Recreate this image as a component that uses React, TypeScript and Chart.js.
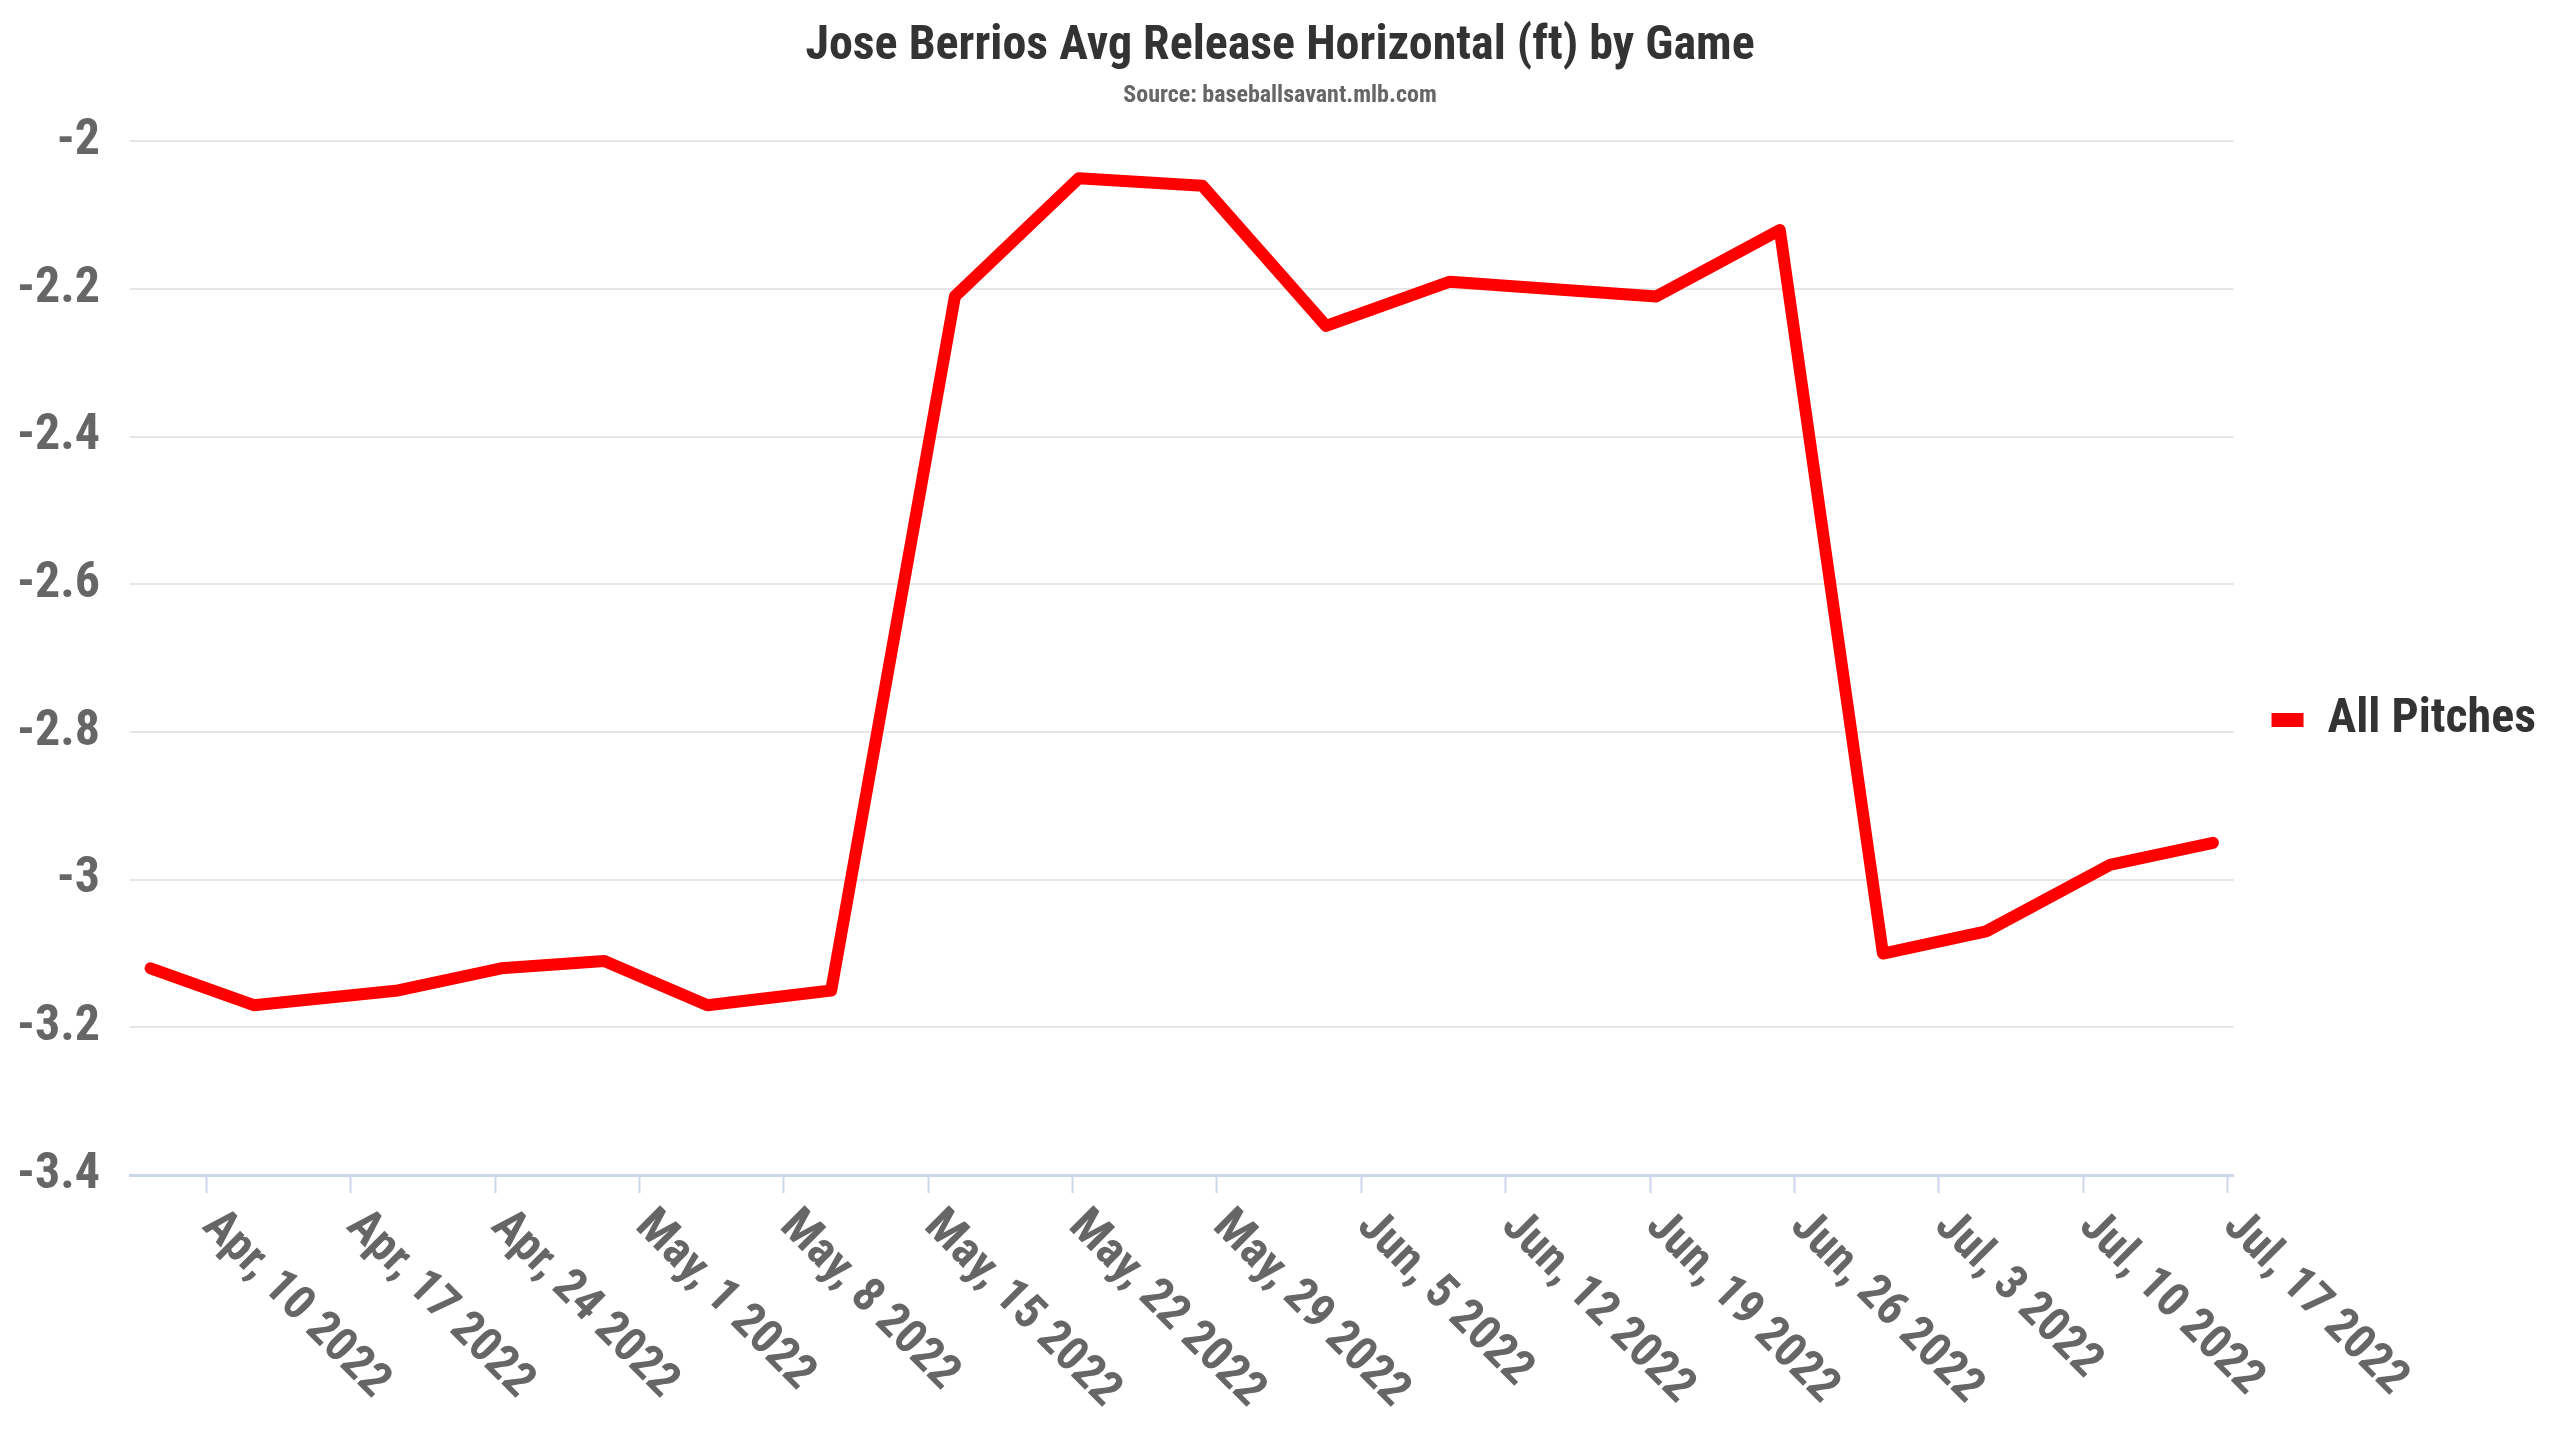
import { useEffect, useRef } from "react"
import { Chart, registerables } from "chart.js"

Chart.register(...registerables)

// game dates and avg release x (ft)
const gameDates = [
  "2022-04-07", "2022-04-12", "2022-04-19", "2022-04-24", "2022-04-29", "2022-05-04",
  "2022-05-10", "2022-05-16", "2022-05-22", "2022-05-28", "2022-06-03", "2022-06-09",
  "2022-06-19", "2022-06-25", "2022-06-30", "2022-07-05", "2022-07-11", "2022-07-16",
]
const releaseX = [
  -3.12, -3.17, -3.15, -3.12, -3.11, -3.17,
  -3.15, -2.21, -2.05, -2.06, -2.25, -2.19,
  -2.21, -2.12, -3.10, -3.07, -2.98, -2.95,
]

const tickDates = [
  "2022-04-10", "2022-04-17", "2022-04-24", "2022-05-01", "2022-05-08",
  "2022-05-15", "2022-05-22", "2022-05-29", "2022-06-05", "2022-06-12",
  "2022-06-19", "2022-06-26", "2022-07-03", "2022-07-10", "2022-07-17",
]
const tickLabels = [
  "Apr, 10 2022", "Apr, 17 2022", "Apr, 24 2022", "May, 1 2022", "May, 8 2022",
  "May, 15 2022", "May, 22 2022", "May, 29 2022", "Jun, 5 2022", "Jun, 12 2022",
  "Jun, 19 2022", "Jun, 26 2022", "Jul, 3 2022", "Jul, 10 2022", "Jul, 17 2022",
]

const axisMin = "2022-04-06"
const axisMax = "2022-07-17"

// week ticks sit at local midnight of the source chart (7h ahead of UTC)
const TICK_SHIFT = 7 * 3600 * 1000

const FONT = '"Roboto Condensed", "Liberation Sans Narrow", "Roboto", sans-serif'

const tickValues = tickDates.map(d => Date.parse(d) - TICK_SHIFT)

// draws the slanted date labels, starting at each tick
const slantedLabels = {
  id: "slantedLabels",
  afterDraw(chart: Chart) {
    const scale = chart.scales.x
    const ctx = chart.ctx
    ctx.save()
    ctx.font = `bold 48px ${FONT}`
    ctx.fillStyle = "#666666"
    ctx.textAlign = "left"
    ctx.textBaseline = "middle"
    tickValues.forEach((v, i) => {
      const px = scale.getPixelForValue(v)
      ctx.save()
      ctx.translate(px + 3, scale.top + 44)
      ctx.rotate(Math.PI / 4)
      ctx.fillText(tickLabels[i], 0, 0)
      ctx.restore()
    })
    ctx.restore()
  },
}

export default function App() {
  const chartRef = useRef<HTMLCanvasElement>(null)
  const chartInstance = useRef<Chart | null>(null)

  useEffect(() => {
    document.body.style.margin = "0"
    if (!chartRef.current) return
    if (chartInstance.current) chartInstance.current.destroy()

    const ctx = chartRef.current.getContext("2d")
    if (!ctx) return

    chartInstance.current = new Chart(ctx, {
      type: "line",
      data: {
        datasets: [
          {
            label: "All Pitches",
            data: gameDates.map((d, i) => ({ x: Date.parse(d), y: releaseX[i] })),
            borderColor: "#ff0000",
            backgroundColor: "#ff0000",
            borderWidth: 12,
            borderCapStyle: "round",
            borderJoinStyle: "round",
            pointRadius: 0,
            tension: 0,
          },
        ],
      },
      plugins: [slantedLabels],
      options: {
        animation: false,
        responsive: true,
        maintainAspectRatio: false,
        layout: {
          padding: { left: 14, right: 14, top: 0, bottom: 0 },
        },
        plugins: {
          title: {
            display: true,
            text: "Jose Berrios Avg Release Horizontal (ft) by Game",
            color: "#333333",
            font: { family: FONT, size: 48, weight: "bold" },
            padding: { top: 18, bottom: 0 },
          },
          subtitle: {
            display: true,
            text: "Source: baseballsavant.mlb.com",
            color: "#666666",
            font: { family: FONT, size: 24, weight: "bold" },
            padding: { top: 6, bottom: 31 },
          },
          legend: {
            position: "right",
            labels: {
              usePointStyle: true,
              pointStyle: "line",
              pointStyleWidth: 32,
              padding: 38,
              color: "#333333",
              font: { family: FONT, size: 48, weight: "bold" },
              generateLabels: (chart: Chart) =>
                Chart.defaults.plugins.legend.labels
                  .generateLabels(chart)
                  .map(l => ({ ...l, lineCap: "butt", lineWidth: 14 })),
            },
          },
          tooltip: { enabled: false },
        },
        scales: {
          x: {
            type: "linear",
            min: Date.parse(axisMin),
            max: Date.parse(axisMax),
            afterBuildTicks: (scale: any) => {
              scale.ticks = tickValues.map(v => ({ value: v }))
            },
            // room for the slanted labels below the axis
            afterFit: (scale: any) => {
              scale.height = 265
            },
            grid: {
              drawOnChartArea: false,
              drawTicks: true,
              tickLength: 18,
              tickColor: "#ccd6eb",
              tickWidth: 2,
            },
            border: { display: true, color: "#ccd6eb", width: 3 },
            ticks: { display: false },
          },
          y: {
            min: -3.4,
            max: -2,
            afterFit: (scale: any) => {
              scale.width = 116
            },
            ticks: {
              stepSize: 0.2,
              padding: 30,
              color: "#666666",
              font: { family: FONT, size: 50, weight: "bold" },
              callback: (v: any) => String(Number(Number(v).toFixed(1))),
            },
            grid: {
              color: "#e6e6e6",
              lineWidth: 2,
              drawTicks: false,
            },
            border: { display: false },
          },
        },
      },
    })

    return () => {
      if (chartInstance.current) {
        chartInstance.current.destroy()
        chartInstance.current = null
      }
    }
  }, [])

  return (
    <div style={{ width: "2560px", height: "1440px", position: "relative", background: "#ffffff" }}>
      <canvas ref={chartRef} />
    </div>
  )
}
